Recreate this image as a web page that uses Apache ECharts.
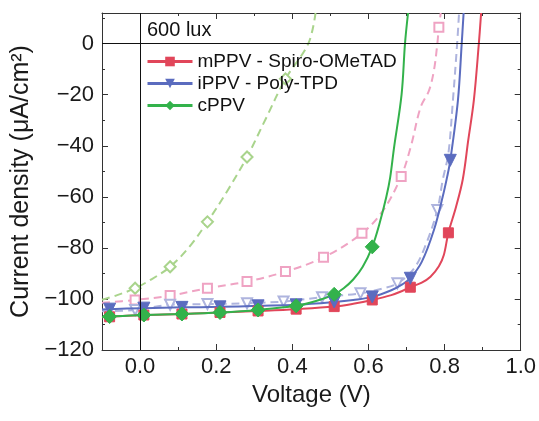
<!DOCTYPE html>
<html>
<head>
<meta charset="utf-8">
<script src="https://cdn.jsdelivr.net/npm/echarts@6/dist/echarts.min.js"></script>
<style>
  html, body { margin: 0; padding: 0; background: #fff; }
  #chart { width: 539px; height: 421px; }
</style>
</head>
<body>
<div id="chart"></div>
<script>
// Tick labels shown on the axes
const xTickLabels = [0.0, 0.2, 0.4, 0.6, 0.8, 1.0];
const yTickLabels = [-120, -100, -80, -60, -40, -20, 0];

// J-V data at 600 lux: [voltage (V), current density (uA/cm2)]
// "Marks" are the points that carry a symbol, "Curve" the points between them.
const mppvMarks = [[-0.08, -107.0], [0.01, -106.3], [0.11, -105.9], [0.21, -105.3], [0.31, -104.7],
  [0.41, -104.0], [0.51, -103.0], [0.61, -100.4], [0.71, -95.4], [0.81, -74.1]];
const mppvCurve = [[-0.1, -107.2], [0.56, -101.9], [0.66, -98.5], [0.69, -96.8], [0.74, -93.6], [0.763, -91.3],
  [0.785, -87.2], [0.798, -82.8], [0.83, -64.0], [0.848, -53.0], [0.862, -38.0], [0.877, -22.0], [0.89, 0], [0.896, 12]];

const ippvMarks = [[-0.08, -104.0], [0.01, -103.6], [0.11, -103.3], [0.21, -103.1], [0.31, -102.7],
  [0.41, -102.3], [0.51, -101.2], [0.61, -99.2], [0.71, -91.9], [0.815, -45.7]];
const ippvCurve = [[-0.1, -104.1], [0.56, -100.4], [0.66, -96.6], [0.69, -94.2], [0.74, -85.5], [0.772, -73.0],
  [0.795, -60.0], [0.807, -52.0], [0.835, -22.3], [0.845, 0], [0.85, 12]];

const cppvMarks = [[-0.08, -106.9], [0.01, -106.3], [0.11, -105.9], [0.21, -105.3], [0.31, -104.3],
  [0.41, -102.7], [0.51, -98.2], [0.61, -79.6]];
const cppvCurve = [[-0.1, -107.1], [0.46, -100.9], [0.535, -95.8], [0.56, -92.4], [0.585, -87.4], [0.63, -70.0],
  [0.647, -60.0], [0.657, -52.5], [0.667, -41.0], [0.687, -20.0], [0.696, 0], [0.704, 12]];

// Dashed companion curves
const mppvDashMarks = [[-0.013, -100.4], [0.079, -98.7], [0.177, -95.8], [0.281, -93.2], [0.382, -89.3],
  [0.482, -83.7], [0.583, -74.3], [0.686, -52.0], [0.785, 6.4]];
const mppvDashCurve = [[-0.1, -101.5], [0.64, -65.0], [0.711, -40.5], [0.737, -24.9], [0.759, -18.4],
  [0.772, -10.5], [0.781, 0], [0.79, 12]];

const ippvDashMarks = [[-0.013, -104.3], [0.079, -102.3], [0.177, -102.0], [0.281, -101.7], [0.377, -101.0],
  [0.478, -99.3], [0.579, -97.8], [0.676, -93.9], [0.781, -65.2]];
const ippvDashCurve = [[-0.1, -104.8], [0.63, -96.2], [0.72, -88.0], [0.75, -79.0], [0.795, -53.5],
  [0.81, -43.0], [0.822, -22.0], [0.833, 0], [0.838, 12]];

const cppvDashMarks = [[-0.013, -95.8], [0.079, -87.4], [0.177, -69.8], [0.281, -44.4], [0.382, -13.8]];
const cppvDashCurve = [[-0.1, -100.3], [-0.06, -98.5], [0.03, -92.3], [0.13, -79.5], [0.23, -57.5],
  [0.33, -29.5], [0.442, 0], [0.461, 12]];

const FONT = "'Liberation Sans', Arial, sans-serif";

// Merge symbol points and plain points into one sorted line, hiding symbols on plain points
function buildLine(marks, curve) {
  const pts = marks.map(p => ({ p, mark: true }))
    .concat(curve.map(p => ({ p, mark: false })));
  pts.sort((a, b) => a.p[0] - b.p[0]);
  return pts.map(o => o.mark ? { value: o.p } : { value: o.p, symbol: 'none' });
}

function lineSeries(name, marks, curve, color, symbol, opts) {
  return Object.assign({
    name,
    type: 'line',
    data: buildLine(marks, curve),
    smooth: 0.35,
    showSymbol: true,
    showAllSymbol: true,
    symbol,
    symbolSize: 10,
    lineStyle: { color, width: 2 },
    itemStyle: { color, borderColor: color },
    clip: true,
    z: 3
  }, opts || {});
}

const triDown = 180;

const series = [
  lineSeries('cPPV dashed', cppvDashMarks, cppvDashCurve, '#A9D48C', 'emptyDiamond',
    { symbolSize: 11, lineStyle: { color: '#A9D48C', width: 2, type: [8, 5] }, itemStyle: { color: '#A9D48C', borderColor: '#A9D48C', borderWidth: 1.5 }, z: 2 }),
  lineSeries('mPPV dashed', mppvDashMarks, mppvDashCurve, '#EFA3C3', 'emptyRect',
    { symbolSize: 9, lineStyle: { color: '#EFA3C3', width: 2, type: [8, 5] }, itemStyle: { color: '#EFA3C3', borderColor: '#EFA3C3', borderWidth: 1.5 }, z: 2 }),
  lineSeries('iPPV dashed', ippvDashMarks, ippvDashCurve, '#AEB4DE', 'emptyTriangle',
    { symbolSize: 10, symbolRotate: triDown, lineStyle: { color: '#AEB4DE', width: 2, type: [8, 5] }, itemStyle: { color: '#AEB4DE', borderColor: '#AEB4DE', borderWidth: 1.5 }, z: 2 }),
  lineSeries('mPPV - Spiro-OMeTAD', mppvMarks, mppvCurve, '#E1465A', 'rect', { symbolSize: 10 }),
  lineSeries('iPPV - Poly-TPD', ippvMarks, ippvCurve, '#5B6CBF', 'triangle', { symbolSize: 12, symbolRotate: triDown }),
  lineSeries('cPPV', cppvMarks, cppvCurve, '#33B24B', 'diamond', { symbolSize: 14 })
];

// Zero reference lines
series[0].markLine = {
  silent: true,
  symbol: 'none',
  animation: false,
  label: { show: false },
  lineStyle: { color: '#111', width: 1, type: 'solid' },
  data: [{ xAxis: 0 }, { yAxis: 0 }]
};

const frame = { show: true, onZero: false, lineStyle: { color: '#333', width: 1 } };
const tick = { show: true, inside: true, length: 6, lineStyle: { color: '#333', width: 1 } };
const minor = { show: true, splitNumber: 2, length: 3, lineStyle: { color: '#333', width: 1 } };

const isTick = (list, v) => list.some(t => Math.abs(t - v) < 1e-6);

const chart = echarts.init(document.getElementById('chart'), null, { renderer: 'canvas' });
chart.setOption({
  animation: false,
  backgroundColor: '#fff',
  textStyle: { fontFamily: FONT },
  grid: { left: 102, right: 16, top: 13, bottom: 71, containLabel: false },
  legend: {
    orient: 'vertical',
    left: 146,
    top: 52,
    padding: 0,
    itemWidth: 45,
    itemHeight: 12,
    itemGap: 3,
    selectedMode: false,
    lineStyle: { width: 3 },
    textStyle: { fontSize: 19, color: '#111', fontFamily: FONT, lineHeight: 19 },
    data: ['mPPV - Spiro-OMeTAD', 'iPPV - Poly-TPD', 'cPPV']
  },
  graphic: [{
    type: 'text',
    left: 147,
    top: 20,
    style: { text: '600 lux', fontSize: 20, fill: '#111', fontFamily: FONT }
  }],
  xAxis: [{
    type: 'value',
    position: 'bottom',
    min: -0.1,
    max: 1.0,
    splitNumber: 5,
    axisLine: frame,
    axisTick: tick,
    minorTick: minor,
    splitLine: { show: false },
    axisLabel: {
      fontSize: 22, color: '#1a1a1a', margin: 6, fontFamily: FONT,
      formatter: v => isTick(xTickLabels, v) ? v.toFixed(1) : ''
    },
    name: 'Voltage (V)',
    nameLocation: 'middle',
    nameGap: 33,
    nameTextStyle: { fontSize: 24, color: '#1a1a1a', fontFamily: FONT }
  }, {
    type: 'value',
    position: 'top',
    min: -0.1,
    max: 1.0,
    splitNumber: 5,
    axisLine: frame,
    axisTick: tick,
    minorTick: minor,
    splitLine: { show: false },
    axisLabel: { show: false }
  }],
  yAxis: [{
    type: 'value',
    position: 'left',
    min: -120,
    max: 12,
    interval: 20,
    axisLine: frame,
    axisTick: tick,
    minorTick: minor,
    splitLine: { show: false },
    axisLabel: {
      fontSize: 22, color: '#1a1a1a', margin: 8, fontFamily: FONT,
      formatter: v => isTick(yTickLabels, v) ? String(v).replace('-', '\u2212') : ''
    },
    name: 'Current density (\u03bcA/cm\u00b2)',
    nameLocation: 'middle',
    nameGap: 62,
    nameTextStyle: { fontSize: 25, color: '#1a1a1a', fontFamily: FONT }
  }, {
    type: 'value',
    position: 'right',
    min: -120,
    max: 12,
    interval: 20,
    axisLine: frame,
    axisTick: tick,
    minorTick: minor,
    splitLine: { show: false },
    axisLabel: { show: false }
  }],
  series
});
</script>
</body>
</html>
